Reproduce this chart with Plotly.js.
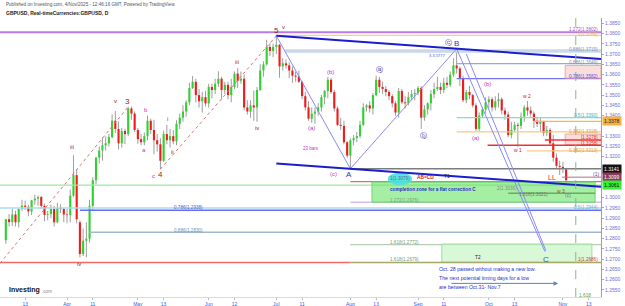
<!DOCTYPE html>
<html><head><meta charset="utf-8">
<script src="https://cdn.plot.ly/plotly-3.0.1.min.js"></script>
<style>html,body{margin:0;padding:0;background:#fff;}#chart{width:625px;height:306px;}</style>
</head><body><div id="chart"></div>
<script>
// ---- daily GBPUSD candles ----
const dates = [
"2025-03-05","2025-03-06","2025-03-07","2025-03-10","2025-03-11","2025-03-12","2025-03-13","2025-03-14","2025-03-17","2025-03-18","2025-03-19","2025-03-20","2025-03-21","2025-03-24","2025-03-25","2025-03-26","2025-03-27","2025-03-28","2025-03-31",
"2025-04-01","2025-04-02","2025-04-03","2025-04-04","2025-04-07","2025-04-08","2025-04-09","2025-04-10","2025-04-11","2025-04-14","2025-04-15","2025-04-16","2025-04-17","2025-04-18","2025-04-21","2025-04-22","2025-04-23","2025-04-24","2025-04-25","2025-04-28","2025-04-29","2025-04-30",
"2025-05-01","2025-05-02","2025-05-05","2025-05-06","2025-05-07","2025-05-08","2025-05-09","2025-05-12","2025-05-13","2025-05-14","2025-05-15","2025-05-16","2025-05-19","2025-05-20","2025-05-21","2025-05-22","2025-05-23","2025-05-26","2025-05-27","2025-05-28","2025-05-29","2025-05-30",
"2025-06-02","2025-06-03","2025-06-04","2025-06-05","2025-06-06","2025-06-09","2025-06-10","2025-06-11","2025-06-12","2025-06-13","2025-06-16","2025-06-17","2025-06-18","2025-06-19","2025-06-20","2025-06-23","2025-06-24","2025-06-25","2025-06-26","2025-06-27","2025-06-30",
"2025-07-01","2025-07-02","2025-07-03","2025-07-04","2025-07-07","2025-07-08","2025-07-09","2025-07-10","2025-07-11","2025-07-14","2025-07-15","2025-07-16","2025-07-17","2025-07-18","2025-07-21","2025-07-22","2025-07-23","2025-07-24","2025-07-25","2025-07-28","2025-07-29","2025-07-30","2025-07-31",
"2025-08-01","2025-08-04","2025-08-05","2025-08-06","2025-08-07","2025-08-08","2025-08-11","2025-08-12","2025-08-13","2025-08-14","2025-08-15","2025-08-18","2025-08-19","2025-08-20","2025-08-21","2025-08-22","2025-08-25","2025-08-26","2025-08-27","2025-08-28","2025-08-29",
"2025-09-01","2025-09-02","2025-09-03","2025-09-04","2025-09-05","2025-09-08","2025-09-09","2025-09-10","2025-09-11","2025-09-12","2025-09-15","2025-09-16","2025-09-17","2025-09-18","2025-09-19","2025-09-22","2025-09-23","2025-09-24","2025-09-25","2025-09-26","2025-09-29","2025-09-30",
"2025-10-01","2025-10-02","2025-10-03","2025-10-06","2025-10-07","2025-10-08","2025-10-09","2025-10-10","2025-10-13","2025-10-14","2025-10-15","2025-10-16","2025-10-17","2025-10-20","2025-10-21","2025-10-22","2025-10-23","2025-10-24","2025-10-27","2025-10-28","2025-10-29","2025-10-30","2025-10-31",
"2025-11-03","2025-11-04"];
const opens = [
1.2793,1.2895,1.2881,1.2918,1.2880,1.2945,1.2961,1.2955,1.2933,1.2987,1.2995,1.3003,1.2960,1.2916,1.2920,1.2945,1.2880,1.2950,1.2945,
1.2918,1.2915,1.3010,1.3110,1.2880,1.2725,1.2790,1.2800,1.2960,1.3085,1.3195,1.3230,1.3255,1.3265,1.3295,1.3375,1.3335,1.3265,1.3325,1.3310,1.3435,1.3410,
1.3330,1.3285,1.3270,1.3300,1.3375,1.3330,1.3280,1.3260,1.3180,1.3310,1.3280,1.3300,1.3275,1.3360,1.3390,1.3420,1.3465,1.3535,1.3565,1.3500,1.3470,1.3490,
1.3460,1.3540,1.3525,1.3555,1.3580,1.3525,1.3550,1.3500,1.3540,1.3605,1.3570,1.3580,1.3440,1.3420,1.3450,1.3440,1.3525,1.3620,1.3650,1.3735,1.3715,
1.3735,1.3745,1.3640,1.3655,1.3645,1.3620,1.3595,1.3590,1.3565,1.3495,1.3440,1.3385,1.3410,1.3420,1.3440,1.3490,1.3520,1.3575,1.3515,1.3435,1.3355,1.3350,1.3270,
1.3205,1.3280,1.3290,1.3300,1.3355,1.3440,1.3450,1.3435,1.3500,1.3575,1.3540,1.3530,1.3515,1.3495,1.3460,1.3415,1.3520,1.3465,1.3460,1.3490,1.3505,
1.3510,1.3535,1.3390,1.3430,1.3460,1.3505,1.3530,1.3540,1.3525,1.3560,1.3550,1.3600,1.3645,1.3630,1.3580,1.3475,1.3515,1.3500,1.3450,1.3335,1.3400,1.3430,
1.3465,1.3480,1.3440,1.3470,1.3480,1.3425,1.3405,1.3305,1.3330,1.3355,1.3350,1.3395,1.3440,1.3425,1.3410,1.3375,1.3360,1.3370,1.3315,1.3330,1.3265,1.3195,1.3155,
1.3150,1.3138];
const highs = [
1.2895,1.2920,1.2947,1.2936,1.2947,1.2990,1.2986,1.2966,1.2990,1.3014,1.3010,1.3008,1.2970,1.2935,1.2965,1.2960,1.2975,1.2968,1.2950,
1.2945,1.3040,1.3207,1.3140,1.2890,1.2850,1.2880,1.2990,1.3100,1.3200,1.3250,1.3295,1.3298,1.3310,1.3405,1.3423,1.3372,1.3340,1.3336,1.3443,1.3445,1.3420,
1.3340,1.3310,1.3318,1.3401,1.3385,1.3380,1.3310,1.3290,1.3327,1.3355,1.3335,1.3330,1.3378,1.3410,1.3450,1.3475,1.3560,1.3593,1.3580,1.3530,1.3517,1.3520,
1.3555,1.3555,1.3580,1.3616,1.3590,1.3565,1.3565,1.3580,1.3615,1.3632,1.3615,1.3600,1.3475,1.3475,1.3523,1.3540,1.3650,1.3665,1.3770,1.3753,1.3750,
1.3789,1.3750,1.3680,1.3675,1.3660,1.3640,1.3615,1.3620,1.3570,1.3515,1.3470,1.3440,1.3440,1.3460,1.3500,1.3525,1.3588,1.3585,1.3525,1.3445,1.3390,1.3375,1.3275,
1.3290,1.3305,1.3320,1.3375,1.3460,1.3455,1.3470,1.3510,1.3595,1.3590,1.3565,1.3545,1.3525,1.3505,1.3470,1.3535,1.3530,1.3495,1.3515,1.3525,1.3530,
1.3545,1.3545,1.3450,1.3465,1.3525,1.3560,1.3590,1.3560,1.3585,1.3590,1.3615,1.3680,1.3726,1.3640,1.3595,1.3525,1.3545,1.3505,1.3460,1.3415,1.3440,1.3490,
1.3495,1.3490,1.3495,1.3510,1.3490,1.3440,1.3420,1.3370,1.3370,1.3365,1.3415,1.3450,1.3471,1.3445,1.3420,1.3395,1.3390,1.3375,1.3350,1.3340,1.3305,1.3215,1.3180,
1.3175,1.3145];
const lows = [
1.2775,1.2860,1.2862,1.2860,1.2855,1.2935,1.2940,1.2909,1.2915,1.2965,1.2960,1.2945,1.2885,1.2890,1.2900,1.2860,1.2875,1.2925,1.2880,
1.2875,1.2880,1.3005,1.2874,1.2708,1.2715,1.2710,1.2780,1.2940,1.3065,1.3166,1.3180,1.3230,1.3250,1.3290,1.3315,1.3235,1.3245,1.3262,1.3300,1.3380,1.3320,
1.3263,1.3255,1.3255,1.3280,1.3310,1.3212,1.3225,1.3139,1.3175,1.3260,1.3245,1.3260,1.3255,1.3335,1.3370,1.3395,1.3450,1.3530,1.3465,1.3440,1.3415,1.3445,
1.3440,1.3485,1.3505,1.3540,1.3480,1.3505,1.3480,1.3465,1.3530,1.3535,1.3555,1.3425,1.3405,1.3390,1.3375,1.3370,1.3520,1.3590,1.3645,1.3690,1.3685,
1.3700,1.3585,1.3620,1.3630,1.3582,1.3560,1.3565,1.3560,1.3480,1.3425,1.3375,1.3365,1.3360,1.3400,1.3420,1.3455,1.3485,1.3505,1.3420,1.3350,1.3330,1.3260,1.3195,
1.3141,1.3255,1.3270,1.3290,1.3350,1.3420,1.3415,1.3405,1.3495,1.3510,1.3505,1.3495,1.3475,1.3440,1.3400,1.3390,1.3455,1.3435,1.3450,1.3475,1.3475,
1.3500,1.3335,1.3375,1.3405,1.3425,1.3485,1.3520,1.3505,1.3510,1.3535,1.3540,1.3590,1.3605,1.3545,1.3465,1.3460,1.3480,1.3440,1.3325,1.3325,1.3390,1.3410,
1.3435,1.3420,1.3425,1.3440,1.3405,1.3380,1.3295,1.3290,1.3320,1.3248,1.3335,1.3370,1.3400,1.3395,1.3340,1.3345,1.3320,1.3300,1.3300,1.3255,1.3175,1.3140,1.3110,
1.3120,1.3068];
const closes = [
1.2895,1.2881,1.2918,1.2880,1.2945,1.2961,1.2955,1.2933,1.2987,1.2995,1.3003,1.2960,1.2916,1.2920,1.2945,1.2880,1.2950,1.2945,1.2918,
1.2915,1.3010,1.3110,1.2895,1.2725,1.2790,1.2800,1.2960,1.3085,1.3195,1.3230,1.3255,1.3265,1.3295,1.3375,1.3335,1.3265,1.3325,1.3310,1.3435,1.3410,1.3330,
1.3285,1.3270,1.3300,1.3375,1.3330,1.3280,1.3260,1.3180,1.3310,1.3280,1.3300,1.3275,1.3360,1.3390,1.3420,1.3465,1.3535,1.3565,1.3500,1.3470,1.3490,1.3460,
1.3540,1.3525,1.3555,1.3580,1.3525,1.3550,1.3500,1.3540,1.3605,1.3570,1.3580,1.3440,1.3420,1.3450,1.3440,1.3525,1.3620,1.3650,1.3735,1.3715,1.3735,
1.3745,1.3640,1.3655,1.3645,1.3620,1.3595,1.3590,1.3565,1.3495,1.3440,1.3385,1.3410,1.3420,1.3440,1.3490,1.3520,1.3575,1.3515,1.3435,1.3355,1.3350,1.3270,1.3205,
1.3280,1.3290,1.3300,1.3355,1.3440,1.3450,1.3435,1.3500,1.3575,1.3540,1.3530,1.3515,1.3495,1.3460,1.3415,1.3520,1.3465,1.3460,1.3490,1.3505,1.3510,
1.3535,1.3390,1.3430,1.3460,1.3505,1.3530,1.3540,1.3525,1.3560,1.3550,1.3600,1.3645,1.3630,1.3580,1.3475,1.3515,1.3500,1.3450,1.3335,1.3400,1.3430,1.3465,
1.3480,1.3440,1.3470,1.3480,1.3425,1.3405,1.3305,1.3330,1.3355,1.3350,1.3395,1.3440,1.3425,1.3410,1.3375,1.3360,1.3370,1.3315,1.3330,1.3265,1.3195,1.3155,1.3150,
1.3140,1.3085];

// ---- axis ticks ----
const tickDates = ["2025-03-13","2025-04-01","2025-04-11","2025-05-01","2025-05-13","2025-06-02","2025-06-12","2025-07-01","2025-07-11","2025-08-01","2025-08-13","2025-09-01","2025-09-11","2025-10-01","2025-10-13","2025-11-03","2025-11-13"];
const tickText  = ["13","Apr","11","May","13","Jun","12","Jul","11","Aug","13","Sep","11","Oct","13","Nov","13"];
const priceTicks = [1.2550,1.2600,1.2650,1.2700,1.2750,1.2800,1.2850,1.2900,1.2950,1.3000,1.3200,1.3250,1.3300,1.3400,1.3450,1.3500,1.3550,1.3600,1.3650,1.3700,1.3750,1.3800,1.3850];

// ---- wave pivots (dates) ----
const pivot3 = "2025-04-28", pivot4 = "2025-05-12", pivot5 = "2025-07-01", pivotA = "2025-08-01", pivotB = "2025-09-17", pivotIV = "2025-04-07";
const timingDay = "2025-11-07";
const targetC = [169.4, 1.2738];   // projected end of wave C
const startLow = [0.2, 1.2680];     // origin of the first dotted trend line

// ---- Fibonacci / level prices ----
const lvlPurple = 1.3806, lvlOrange = 1.3791, lvlBand = 1.3715, lvl0886 = 1.3654, lvl0786 = 1.3580;
const lvlTeal = 1.3390, lvlSell = 1.3372, lvl0382 = 1.3321, lvlW1 = 1.3256, lvlRed2 = 1.3281, lvlTan2 = 1.3228;
const lvlMauve = 1.3100, lvlABCD = 1.3078, lvlGreen = 1.3061, lvlZoneTop = 1.3076, lvlZoneBot = 1.2978, lvlDkGreen = 1.3022;
const lvlCyan = 1.2950, lvlBlue = 1.2939, lvlGrayBlue = 1.2831, lvl1618 = 1.2771, lvlBottom = 1.2684;
const zone2Top = 1.2774, zone2Bot = 1.2685, pinkBox1 = [1.3583, 1.3645], pinkBox2 = [1.3258, 1.3310];

function tIdx(d){
  const base = Date.UTC(2025,2,3);
  const t = Date.UTC(+d.slice(0,4), +d.slice(5,7)-1, +d.slice(8,10));
  let n = 0;
  for (let u = base; u < t; u += 864e5){ const w = new Date(u).getUTCDay(); if (w !== 0 && w !== 6) n++; }
  return n;
}
const xs = dates.map(tIdx);
const hi = d => highs[dates.indexOf(d)];
const lo = d => lows[dates.indexOf(d)];
const xR = [0.186, 186.83];
const yR = [1.25157, 1.3876];
const X5 = tIdx(pivot5), XA = tIdx(pivotA), XB = tIdx(pivotB);
const slope = (hi(pivotB) - hi(pivot5)) / (XB - X5);

const GREEN = '#2fd22f', RED = '#f21b1b';
const bodyBase = [], bodyLen = [], bodyCol = [], wickBase = [], wickLen = [];
for (let i = 0; i < dates.length; i++){
  const o = opens[i], c = closes[i];
  bodyBase.push(Math.min(o,c));
  bodyLen.push(Math.max(Math.abs(c-o), 0.00012));
  bodyCol.push(c >= o ? GREEN : RED);
  wickBase.push(lows[i]);
  wickLen.push(highs[i]-lows[i]);
}

const traces = [
  {type:'bar', x:xs, y:wickLen, base:wickBase, width:0.3, marker:{color:'#9a9a9a', line:{width:0}}, hoverinfo:'skip'},
  {type:'bar', x:xs, y:bodyLen, base:bodyBase, width:0.66, marker:{color:bodyCol, line:{width:0}}, hoverinfo:'skip'}
];

const xE = xR[1];
function hl(y, x0, x1, color, width, dash){
  return {type:'line', xref:'x', yref:'y', x0:x0, x1:x1, y0:y, y1:y, line:{color:color, width:width||1, dash:dash||'solid'}};
}
function seg(x0,y0,x1,y1,color,width,dash){
  return {type:'line', xref:'x', yref:'y', x0:x0, y0:y0, x1:x1, y1:y1, line:{color:color, width:width||1, dash:dash||'solid'}};
}
function rect(x0,x1,y0,y1,fill,lc){
  return {type:'rect', xref:'x', yref:'y', x0:x0, x1:x1, y0:y0, y1:y1, fillcolor:fill, line:{color:lc, width:1}};
}

const shapes = [
  hl(lvlPurple, xR[0], xE, '#b87ce8', 2),
  hl(lvlOrange, X5, xE, '#f5cf8a', 1.3),
  hl(lvlBand, 88.7, xE, '#c9d9ea', 3.5),
  hl(lvl0886, XB, xE, '#8fb0cf', 1.2),
  hl(lvl0786, XB, xE, '#7373ee', 1.2),
  rect(175.7, xE, pinkBox1[0], pinkBox1[1], 'rgba(244,190,190,0.5)', '#e8a8a8'),
  hl(lvlTeal, XB, xE, '#8ad8d8', 1.2),
  hl(lvlSell, 166.3, xE, '#f7b84f', 1.2),
  hl(lvl0382, XB, xE, '#f3c98a', 1.2),
  rect(175.7, xE, pinkBox2[0], pinkBox2[1], 'rgba(244,190,190,0.5)', '#e8a8a8'),
  hl(lvlW1, 151.6, xE, '#ee3333', 1.5),
  hl(lvlRed2, 169.4, xE, '#ee3333', 1.5),
  hl(lvlTan2, 163.8, xE, '#f5c98a', 1.2),
  hl(lo(pivotA), XA, xE, '#7d7d7d', 1.6),
  hl(lvlMauve, 174.7, xE, '#b0708a', 1),
  hl(lvlABCD, XA, xE, '#ee4444', 1),
  hl(lvlGreen, xR[0], xE, '#9de89d', 1.2),
  hl(lvlZoneBot, XA, xE, '#c39ae8', 1),
  rect(115.7, 185, lvlZoneBot, lvlZoneTop, 'rgba(105,228,105,0.6)', '#6fd66f'),
  {type:'circle', xref:'x', yref:'y', x0:120.6, x1:128.2, y0:1.3062, y1:1.3121, fillcolor:'rgba(70,226,226,0.9)', line:{width:0}},
  hl(lvlDkGreen, 158, 185, '#4d8a3d', 1),
  hl(lvlCyan, xR[0], xE, '#a8dcec', 1.5),
  hl(lvlBlue, tIdx(pivotIV), xE, '#6a6af0', 1.5),
  hl(lvlGrayBlue, 27.8, xE, '#9fb7cf', 1.5),
  hl(lvl1618, XA, xE, '#b5cdb5', 1.2),
  rect(137.4, 184, zone2Bot, zone2Top, 'rgba(200,245,200,0.7)', '#99e099'),
  hl(lvlBottom, xR[0], XA, '#f06a6a', 1.6),
  hl(lvlBottom, XA, xE, '#a7a76a', 1.4),
  seg(startLow[0], startLow[1], tIdx(pivot3), hi(pivot3), '#e07070', 1, 'dot'),
  seg(tIdx(pivot4), lo(pivot4), X5, hi(pivot5), '#e07070', 1, 'dot'),
  seg(X5, hi(pivot5), XA, lo(pivotA), '#8a8af2', 1),
  seg(XA, lo(pivotA), XB, hi(pivotB), '#8a8af2', 1),
  seg(XB, hi(pivotB), targetC[0], targetC[1], '#8a8af2', 1),
  seg(XB+3, hi(pivotB)-0.0025, targetC[0]+0.3, targetC[1]+0.0004, '#8a8af2', 1),
  seg(X5, hi(pivot5), xE, hi(pivot5) + slope*(xE - X5), '#1c1ccf', 2),
  seg(X5, lo(pivotA) + slope*(X5 - XA), xE, lo(pivotA) + slope*(xE - XA), '#1c1ccf', 2),
  {type:'line', xref:'x', yref:'paper', x0:tIdx(timingDay), x1:tIdx(timingDay), y0:0, y1:1, line:{color:'#86b886', width:1, dash:'dash'}}
];

const FF = 'Liberation Sans, Arial, sans-serif';
const ann = [];
function T(text, x, y, color, size, xa, opts){
  ann.push(Object.assign({text:text, x:x, y:y, xref:'x', yref:'y', showarrow:false, xanchor:xa||'center', yanchor:'middle',
    font:{family:FF, size:size, color:color}}, opts||{}));
}
const MAR = '#8b1f1f', MAG = '#c832c8', NAV = '#2c3aa8';
// wave labels
T('iii', 22.55, 1.3248, MAR, 6); T('iv', 24.72, 1.2679, MAR, 6); T('v', 35.9, 1.3469, MAR, 6);
T('3', 39.9, 1.3469, MAR, 8); T('b', 45.5, 1.3429, MAG, 6); T('a', 44.9, 1.3233, MAG, 6);
T('i', 52.05, 1.3385, MAR, 6); T('ii', 53.9, 1.3223, MAR, 6); T('c', 47.7, 1.3106, MAG, 6);
T('4', 49.9, 1.3111, MAR, 8); T('iii', 73.8, 1.3660, MAR, 6); T('iv', 80.0, 1.3341, MAR, 6);
T('5', 85.9, 1.3817, MAR, 8); T('v', 88.1, 1.3834, MAR, 6);
T('(a)', 96.8, 1.3341, MAG, 6); T('(b)', 102.7, 1.3611, MAG, 6); T('(c)', 103.6, 1.3115, MAG, 6);
T('23 bars', 96.8, 1.3238, MAG, 4.5);
T('A', 108.6, 1.3111, NAV, 8);
T('ⓐ', 117.9, 1.3621, NAV, 7, 'center', {font:{family:'DejaVu Sans', size:7, color:NAV}});
T('ⓑ', 131.6, 1.3302, NAV, 7, 'center', {font:{family:'DejaVu Sans', size:7, color:NAV}});
T('ⓒ', 139.6, 1.3753, NAV, 7, 'center', {font:{family:'DejaVu Sans', size:7, color:NAV}});
T('B', 141.8, 1.3753, NAV, 8);
T('3-3.5777', 135.9, 1.3694, '#4a5ad0', 4);
T('(b)', 151.7, 1.3552, MAG, 6); T('(a)', 148, 1.3292, MAG, 6);
T('w 2', 163.8, 1.3498, '#dd2222', 5); T('w 1', 161.1, 1.3233, '#dd2222', 5);
T('LL', 171.6, 1.3097, '#ee2222', 7); T('w 3', 174.4, 1.3032, '#a04a2a', 5); T('(c)', 176.6, 1.3012, '#777', 5);
T('C', 169.7, 1.2699, '#2f55c0', 8);
T('(1)', 185.3, 1.3116, '#8b3a5a', 5);
// level labels (right side)
const rText  = ['1.272(1.3802)','1(1.3789)','0.886(1.3715)','0.886(1.3649)','0.786(1.3582)','0.5(1.3390)','0.382(1.3318)','[1.3278]','[1.3258]','0.382(1.3213)','0.5(1.2944)','1(1.2686)'];
const rPrice = [1.3818,1.3796,1.3724,1.3657,1.3591,1.3403,1.3322,1.3294,1.3264,1.3228,1.2951,1.2698];
const rColor = ['#a050d0','#e8b060','#7a98b8','#7a98b8','#5555dd','#3bb5b5','#e0a040','#e03030','#e03030','#e0a040','#6ab0d0','#c04040'];
for (let i = 0; i < rText.length; i++) T(rText[i], 186.4, rPrice[i], rColor[i], 4.6, 'right');
// level labels (inside)
T('0.786(1.2938)', 63.9, 1.2954, '#5060d0', 4.6, 'right');
T('0.886(1.2830)', 63.9, 1.2841, '#7090b0', 4.6, 'right');
T('completion zone for a flat correction C', 120.7, 1.3040, '#1f2fc8', 4.7, 'left', {font:{family:FF, size:4.7, color:'#1f2fc8', weight:700}});
T('1.272(1.2976)', 120.7, 1.2986, '#7a9a7a', 4.6, 'left');
T('1.618(1.2772)', 120.7, 1.2782, '#7a9a7a', 4.6, 'left');
T('1.618(1.2679)', 120.7, 1.2697, '#7a9a7a', 4.6, 'left');
T('2(1.3036)', 153.9, 1.3043, '#8a8a7a', 4.6, 'left');
T('1.618(1.3021)', 160.6, 1.3014, '#6a7a6a', 4.6, 'left');
T('1(1.3079)', 124.4, 1.3093, '#5a6a8a', 4.6);
T('AB=CD', 132.2, 1.3096, '#e02020', 4.8, 'center', {font:{family:FF, size:4.8, color:'#e02020', weight:700}});
T('T1', 139.0, 1.3101, '#222', 4.8);
T('T2', 148.6, 1.2710, '#222', 4.8);
T('1.618', 179.4, 1.2522, '#5aa05a', 4.8, 'left');
// note + arrow
T('Oct. 28 passed without making a new low.', 135.8, 1.2653, '#2233cc', 5.2, 'left');
T('The next potential timing days for a low', 135.8, 1.2609, '#2233cc', 5.2, 'left');
T('are between Oct.31- Nov.7', 135.8, 1.2565, '#2233cc', 5.2, 'left');
ann.push({x:173.5, y:1.2582, ax:139.9, ay:1.2582, xref:'x', yref:'y', axref:'x', ayref:'y', text:'', showarrow:true,
  arrowhead:2, arrowsize:0.9, arrowwidth:1, arrowcolor:'#5b86b0'});
// price boxes on the axis
const boxText = ['1.3378','1.3141','1.3099','1.3061'];
const boxPrice = [lvlSell, lo(pivotA), lvlMauve, lvlGreen];
const boxBg = ['#f5b041','#111111','#8b3a5a','#33ee33'];
const boxFg = ['#222','#fff','#fff','#111'];
for (let i = 0; i < boxText.length; i++){
  ann.push({text:boxText[i], x:1, y:boxPrice[i], xref:'paper', yref:'y', xanchor:'left', yanchor:'middle', xshift:1, showarrow:false,
    bgcolor:boxBg[i], borderpad:1, font:{family:FF, size:5, color:boxFg[i]}});
}
// header + logo
ann.push({text:'Published on Investing.com, 4/Nov/2025 - 12:46:16 GMT, Powered by TradingView.', xref:'paper', yref:'paper',
  x:0.0067, y:1.0466, xanchor:'left', yanchor:'middle', showarrow:false, font:{family:FF, size:4.6, color:'#555'}});
ann.push({text:'GBPUSD, Real-timeCurrencies:GBPUSD, D', xref:'paper', yref:'paper',
  x:0.0067, y:1.018, xanchor:'left', yanchor:'middle', showarrow:false, font:{family:FF, size:5, color:'#222', weight:700}});
ann.push({text:'Investing', xref:'paper', yref:'paper', x:0.0116, y:0.025, xanchor:'left', yanchor:'middle', showarrow:false,
  font:{family:FF, size:7, color:'#111', weight:700}});
ann.push({text:'.com', xref:'paper', yref:'paper', x:0.066, y:0.021, xanchor:'left', yanchor:'middle', showarrow:false,
  font:{family:FF, size:4.6, color:'#888'}});

const layout = {
  width:625, height:306, margin:{l:0, r:24, t:18, b:9},
  paper_bgcolor:'#fff', plot_bgcolor:'#fff', showlegend:false, barmode:'overlay',
  font:{family:FF},
  xaxis:{range:xR, tickvals:tickDates.map(tIdx), ticktext:tickText, tickfont:{size:5, color:'#3d5bd6'},
    showgrid:false, zeroline:false, showline:true, linecolor:'#dadada', ticks:'outside', ticklen:2, tickcolor:'#bbb', fixedrange:true},
  yaxis:{side:'right', range:yR, tickvals:priceTicks, ticktext:priceTicks.map(v => v.toFixed(4)), tickfont:{size:5, color:'#6e6ed8'},
    showgrid:false, zeroline:false, showline:true, linecolor:'#a0a0a0', ticks:'outside', ticklen:2, tickcolor:'#aaa', fixedrange:true},
  shapes:shapes, annotations:ann
};
Plotly.newPlot('chart', traces, layout, {staticPlot:true, displayModeBar:false});
</script>
</body></html>
